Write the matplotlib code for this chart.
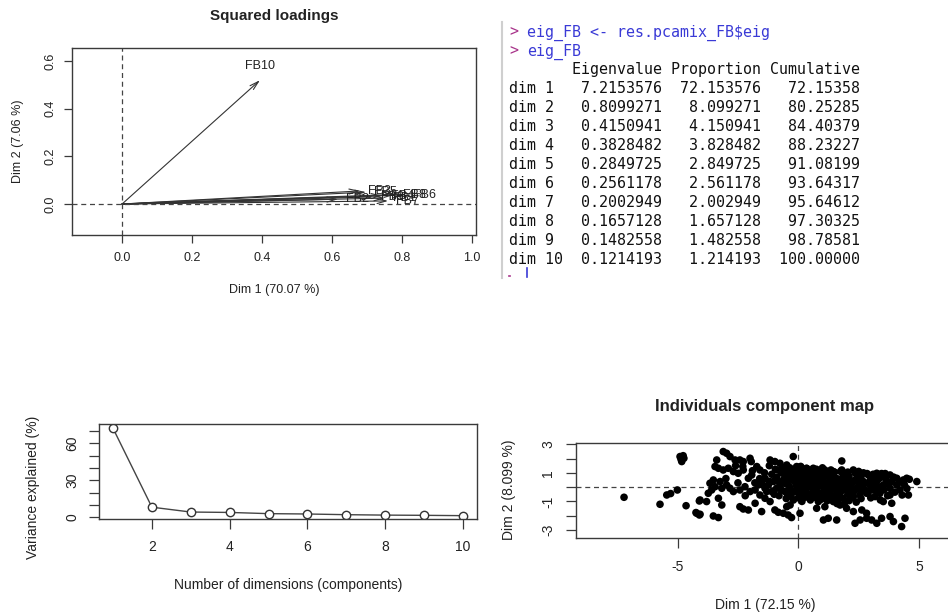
import matplotlib
matplotlib.use('Agg')
import matplotlib.pyplot as plt
from matplotlib.patches import FancyArrowPatch
from matplotlib.lines import Line2D

W, H = 948, 615
plt.rcParams['font.family'] = ['Liberation Sans', 'DejaVu Sans']
plt.rcParams['axes.unicode_minus'] = False

# ---------------- data ----------------
dims = ['dim 1', 'dim 2', 'dim 3', 'dim 4', 'dim 5', 'dim 6', 'dim 7', 'dim 8', 'dim 9', 'dim 10']
eigenvalue = [7.2153576, 0.8099271, 0.4150941, 0.3828482, 0.2849725,
              0.2561178, 0.2002949, 0.1657128, 0.1482558, 0.1214193]
proportion = [72.153576, 8.099271, 4.150941, 3.828482, 2.849725,
              2.561178, 2.002949, 1.657128, 1.482558, 1.214193]
cumulative = [72.15358, 80.25285, 84.40379, 88.23227, 91.08199,
              93.64317, 95.64612, 97.30325, 98.78581, 100.00000]
n_dims = [1, 2, 3, 4, 5, 6, 7, 8, 9, 10]

var_names = ['FB1', 'FB2', 'FB3', 'FB4', 'FB5', 'FB6', 'FB7', 'FB8', 'FB9', 'FB10']
sqload_dim1 = [0.751, 0.617, 0.680, 0.743, 0.697, 0.806, 0.760, 0.780, 0.717, 0.394]
sqload_dim2 = [0.025, 0.020, 0.055, 0.035, 0.050, 0.038, 0.013, 0.040, 0.030, 0.520]

ind_points = [
    (-7.22, -0.71), (-5.73, -1.2), (-5.45, -0.55), (-5.29, -0.45), (-5.01, -0.2),
    (-4.90, 2.14), (-4.77, 2.2), (-4.83, 1.79), (-4.74, 2.02), (-4.86, 1.95),
    (-4.65, -1.3), (-4.24, -1.78), (-4.10, -1.95), (-4.10, -0.97), (-4.07, -0.9),
    (-3.11, 2.49), (-2.97, 2.37), (-2.83, 2.14), (-2.62, 1.9), (-2.42, 1.9), (-2.28, 1.79),
    (-2.0, 2.02), (-1.95, 1.79), (-3.38, 1.9), (-3.45, 1.44), (-3.31, 1.32), (-3.11, 1.2),
    (-2.9, 1.32), (-2.69, 1.09), (-2.49, 0.97), (-2.28, 1.2), (-2.07, 0.62), (-1.93, 0.85),
    (-1.72, 1.44), (-1.59, 1.2), (-3.66, 0.27), (-3.52, 0.5), (-3.45, 0.03), (-3.59, -0.2),
    (-3.73, -0.43), (-3.24, 0.39), (-3.17, -0.08), (-2.97, 0.15), (-2.83, -0.08), (-2.69, -0.31),
    (-2.42, -0.2), (-2.21, 0.03), (-2.0, -0.31), (-1.79, -0.2), (-1.66, 0.15), (-1.52, 0.39),
    (-1.38, -0.08), (-1.24, 0.15), (-1.38, 0.62), (-3.8, -1.01), (-3.31, -0.78), (-3.17, -1.25),
    (-4.21, -1.83), (-4.07, -1.9), (-3.52, -2.02), (-3.31, -2.13), (-2.42, -1.37), (-2.28, -1.53),
    (-2.07, -1.6), (-1.79, -1.13), (-1.52, -1.71), (-0.97, -1.6), (-0.83, -1.76), (-0.62, -1.83),
    (-0.42, -1.95), (-0.28, -2.13), (-0.48, -1.37), (-0.34, -1.25), (0.07, -1.83),
    (-1.17, 1.9), (-0.97, 1.79), (-0.76, 1.67), (-0.83, 1.2), (-0.62, 1.32), (-0.48, 1.55),
    (-0.34, 1.09), (-0.21, 2.14), (-0.07, 1.44), (-0.55, 0.85), (-0.42, 0.5), (-0.21, 0.74),
    (-0.07, 0.39), (0.07, 1.09), (0.21, 0.74), (0.34, 1.32), (0.48, 0.39), (0.62, 0.97),
    (0.76, 0.62), (-1.03, 0.39), (-0.9, -0.08), (-0.76, 0.15), (-1.1, -0.31), (-0.55, -0.31),
    (-0.34, -0.08), (-0.14, -0.31), (0.07, -0.08), (0.28, -0.43), (0.48, -0.66), (0.69, -0.2),
    (0.83, -1.01), (-1.59, -0.55), (-1.38, -0.78), (-1.17, -1.01), (-1.31, -0.31),
    (1.8, 1.83), (0.62, 1.32), (1.1, 1.2), (1.45, 1.09), (1.8, 1.2), (2.28, 1.2), (2.56, 0.97),
    (2.9, 0.85), (3.25, 0.97), (3.52, 0.74), (3.8, 0.85), (4.49, 0.62), (4.91, 0.39), (4.35, 0.5),
    (4.08, 0.15), (4.21, -0.2), (4.56, -0.55), (3.8, -0.55), (3.52, -1.01), (3.87, -1.13),
    (3.18, -0.66), (2.83, -0.43), (2.56, -0.2), (2.14, -0.31), (1.86, -0.08), (1.59, 0.15),
    (1.31, 0.39), (1.04, 0.27), (0.76, 0.62), (0.69, -0.08), (0.9, -0.43), (1.17, -0.66),
    (1.45, -1.01), (0.76, -1.48), (1.1, -1.37), (1.73, -1.25), (2.0, -1.48), (2.28, -1.71),
    (2.63, -1.6), (2.83, -1.83), (1.04, -2.3), (1.24, -2.18), (1.59, -2.3), (2.35, -2.53),
    (2.56, -2.3), (2.83, -2.18), (3.04, -2.3), (3.25, -2.53), (3.45, -2.18), (3.8, -2.06),
    (3.94, -2.41), (4.28, -2.76), (4.42, -2.18), (2.0, 0.85), (2.14, 0.39), (2.42, 0.62),
    (2.7, 0.39), (2.97, 0.15), (3.25, 0.39), (3.52, 0.15), (3.8, -0.08), (3.18, -0.08),
    (3.38, -0.43), (2.28, -0.66), (1.86, -0.78), (1.31, -0.78), (1.59, -0.43), (4.08, 0.62),
    (3.87, 0.39),
    (-0.45, 0.9), (-0.3, 0.6), (-0.15, 1.0), (0.0, 0.7), (0.15, 1.2), (0.25, 0.45), (0.4, 0.85),
    (0.5, 1.1), (0.6, 0.3), (0.7, 0.8), (0.85, 0.5), (0.95, 1.0), (1.05, 0.7), (1.15, 0.3),
    (1.25, 0.9), (1.35, 0.55), (1.5, 1.05), (1.6, 0.6), (1.7, 0.25), (1.85, 0.95), (1.95, 0.45),
    (2.1, 0.75), (2.2, 0.2), (2.35, 1.0), (2.45, 0.5), (2.6, 0.75), (2.75, 0.25), (2.85, 0.95),
    (3.0, 0.55), (3.15, 0.2), (3.35, 0.6), (3.45, 0.95), (3.65, 0.45), (3.75, 0.2), (3.95, 0.7),
    (4.2, 0.35), (4.4, 0.15), (4.6, 0.55),
    (-0.4, 0.1), (-0.25, -0.35), (-0.1, 0.15), (0.05, -0.5), (0.2, 0.0), (0.3, -0.3), (0.45, 0.05),
    (0.55, -0.45), (0.65, -0.1), (0.8, -0.35), (0.9, 0.1), (1.0, -0.6), (1.1, -0.2), (1.2, 0.15),
    (1.3, -0.45), (1.45, -0.1), (1.55, -0.6), (1.65, 0.05), (1.75, -0.35), (1.9, -0.15),
    (2.05, -0.5), (2.15, 0.0), (2.3, -0.3), (2.45, -0.05), (2.55, -0.55), (2.7, -0.15),
    (2.9, -0.35), (3.05, -0.05), (3.3, -0.3), (3.55, -0.2), (3.7, -0.6), (4.0, -0.35),
    (4.3, -0.55), (4.5, -0.1),
    (-0.35, 1.35), (0.1, 1.45), (0.35, 1.3), (0.75, 1.25), (1.0, 1.35), (1.35, 1.2), (-0.6, 0.55),
    (-0.7, 1.0), (-0.9, 0.7), (-1.1, 0.9), (-1.2, 0.4), (-1.4, 1.0), (-1.6, 0.6), (-1.8, 0.3),
    (-0.8, -0.6), (-0.5, -0.8), (-0.2, -0.9), (0.15, -1.0), (0.5, -0.9), (0.75, -0.75),
    (1.2, -0.95), (1.6, -1.15), (1.9, -1.2), (2.4, -1.05), (2.2, -0.75), (3.0, -0.75), (3.4, -0.9),
    (-0.95, 1.25), (-0.6, 1.15), (-0.25, 1.2), (0.05, 1.0), (0.3, 1.05), (0.6, 1.1), (0.9, 1.15),
    (1.2, 1.05), (1.45, 0.85), (1.75, 1.1), (2.05, 1.05), (2.5, 1.1), (2.7, 1.0), (3.1, 0.9),
    (3.6, 0.95), (-0.85, 0.45), (-0.55, 0.25), (-0.2, 0.45), (0.1, 0.3), (0.35, 0.6), (0.55, 0.55),
    (0.8, 0.3), (1.0, 0.45), (1.3, 0.65), (1.55, 0.35), (1.8, 0.6), (2.0, 0.3), (2.3, 0.45),
    (2.6, 0.1), (2.9, 0.3), (3.2, 0.75), (3.6, 0.65), (-0.7, -0.2), (-0.45, -0.5), (-0.05, -0.15),
    (0.15, -0.25), (0.35, 0.2), (0.6, -0.3), (0.75, 0.1), (1.05, -0.05), (1.25, -0.25), (1.4, 0.2),
    (1.7, -0.1), (1.95, 0.1), (2.25, -0.1), (2.5, 0.25), (2.8, -0.25), (3.1, -0.2), (3.4, 0.0),
    (-0.3, -0.65), (0.0, -0.75), (0.3, -0.7), (0.6, -0.65), (0.95, -0.85), (1.35, -0.7),
    (1.7, -0.8), (2.1, -0.95), (2.6, -0.8), (-2.6, 1.5), (-2.3, 1.45), (-1.9, 1.15), (-1.2, 1.5),
    (-1.5, 0.2), (-2.5, 0.3), (-3.0, 0.6), (-1.0, -0.5), (-2.2, -0.6),
]
ind_dim1 = [p[0] for p in ind_points]
ind_dim2 = [p[1] for p in ind_points]

# ---------------- helpers ----------------
fig = plt.figure(figsize=(W / 100, H / 100), dpi=100)
fig.patch.set_facecolor('white')

INK = '#222222'
LINE = '#3a3a3a'


def add_ax(l, t, r, b):
    return fig.add_axes([l / W, 1 - b / H, (r - l) / W, (b - t) / H])


def ftext(x, y, s, **kw):
    return fig.text(x / W, 1 - y / H, s, **kw)


def r_style(ax, xticks, yticks, ylabels=None, fs=9, xpad=5, ypad=5, tlen=6):
    for sp in ax.spines.values():
        sp.set_color(LINE)
        sp.set_linewidth(1.0)
    ax.set_xticks(xticks)
    ax.set_yticks(yticks)
    if ylabels is not None:
        ax.set_yticklabels(ylabels)
    ax.tick_params(direction='out', length=tlen, width=0.9, color=LINE,
                   labelsize=fs, labelcolor=INK)
    ax.tick_params(axis='x', pad=xpad)
    ax.tick_params(axis='y', pad=ypad)
    for lab in ax.get_yticklabels():
        lab.set_rotation(90)
        lab.set_va('center')
        lab.set_ha('right')


# ---------------- panel 1 : squared loadings ----------------
ax1 = add_ax(72, 48, 476, 235)
ax1.set_xlim(-0.143, 1.011)
ax1.set_ylim(-0.130, 0.655)
r_style(ax1, [0.0, 0.2, 0.4, 0.6, 0.8, 1.0], [0.0, 0.2, 0.4, 0.6], fs=9, xpad=6, ypad=5, tlen=6)
ax1.set_xticklabels(['0.0', '0.2', '0.4', '0.6', '0.8', '1.0'])
ax1.set_yticklabels(['0.0', '0.2', '0.4', '0.6'])
for lab in ax1.get_yticklabels():
    lab.set_rotation(90)
    lab.set_va('center')
ax1.axhline(0, ls=(0, (4, 3)), color='#444444', lw=0.9)
ax1.axvline(0, ls=(0, (4, 3)), color='#444444', lw=0.9)
for name, x, y in zip(var_names, sqload_dim1, sqload_dim2):
    arr = FancyArrowPatch((0, 0), (x, y), arrowstyle='->,head_length=6.5,head_width=1.8',
                          mutation_scale=1, shrinkA=0, shrinkB=0, color='#333333', lw=0.8)
    ax1.add_patch(arr)
    if y > x:
        ax1.annotate(name, (x, y), xytext=(0, 6), textcoords='offset points',
                     ha='center', va='bottom', fontsize=9, color=INK)
    else:
        ax1.annotate(name, (x, y), xytext=(6, 0), textcoords='offset points',
                     ha='left', va='center', fontsize=9, color=INK)
ftext(274, 16, 'Squared loadings', ha='center', va='center', fontsize=11, fontweight='bold', color=INK)
ftext(274, 290, 'Dim 1 (70.07 %)', ha='center', va='center', fontsize=9, color=INK)
ftext(18, 141, 'Dim 2 (7.06 %)', ha='center', va='center', fontsize=9, color=INK, rotation=90)

# ---------------- panel 2 : console output ----------------
mono = dict(family='DejaVu Sans Mono', fontsize=10.8)
x0 = 509.3
cw = 9.0
PROMPT = '#a8338a'
CMD = '#3a3ad6'
ftext(x0, 36.3, '>', color=PROMPT, va='baseline', ha='left', **mono)
ftext(x0 + 2 * cw, 36.3, 'eig_FB <- res.pcamix_FB$eig', color=CMD, va='baseline', ha='left', **mono)
ftext(x0, 55.3, '>', color=PROMPT, va='baseline', ha='left', **mono)
ftext(x0 + 2 * cw, 55.3, 'eig_FB', color=CMD, va='baseline', ha='left', **mono)
header = ' ' * 7 + 'Eigenvalue Proportion Cumulative'
ftext(x0, 74.3, header, color='#111111', va='baseline', ha='left', **mono)
for k, (d, e, p, c) in enumerate(zip(dims, eigenvalue, proportion, cumulative)):
    row = f'{d:<6} {e:>10.7f} {p:>10.6f} {c:>10.5f}'
    ftext(x0, 93.3 + 19 * k, row, color='#111111', va='baseline', ha='left', **mono)
fig.add_artist(Line2D([502 / W, 502 / W], [1 - 22 / H, 1 - 278 / H], color='#cfcfcf', lw=1.5))
fig.add_artist(Line2D([527 / W, 527 / W], [1 - 268 / H, 1 - 277 / H], color=CMD, lw=1.2))
fig.add_artist(Line2D([508.5 / W, 510 / W], [1 - 276 / H, 1 - 276 / H], color=PROMPT, lw=1.2))

# ---------------- panel 3 : scree plot ----------------
ax3 = add_ax(99, 424.3, 477, 519)
ax3.set_xlim(0.64, 10.36)
ax3.set_ylim(-1.5, 75.4)
yt = [0, 10, 20, 30, 40, 50, 60, 70]
r_style(ax3, [2, 4, 6, 8, 10], yt, ylabels=[str(v) if v % 30 == 0 else '' for v in yt],
        fs=10, xpad=8, ypad=7, tlen=7)
ax3.plot(n_dims, proportion, color='#444444', lw=1.0, marker='o', markersize=6,
         markerfacecolor='white', markeredgecolor='#333333', markeredgewidth=1.0)
ftext(288, 585, 'Number of dimensions (components)', ha='center', va='center', fontsize=10, color=INK)
ftext(33, 487, 'Variance explained (%)', ha='center', va='center', fontsize=10, color=INK, rotation=90)

# ---------------- panel 4 : individuals map ----------------
ax4 = add_ax(576, 442.7, 954, 537.7)
ax4.set_xlim(-9.21, 6.45)
ax4.set_ylim(-3.54, 3.11)
yt4 = [-3, -2, -1, 0, 1, 2, 3]
r_style(ax4, [-5, 0, 5], yt4, ylabels=[str(v) if v % 2 != 0 else '' for v in yt4],
        fs=10, xpad=9, ypad=8, tlen=7)
ax4.axhline(0, ls=(0, (4, 3)), color='#444444', lw=0.9)
ax4.axvline(0, ls=(0, (4, 3)), color='#444444', lw=0.9)
ax4.scatter(ind_dim1, ind_dim2, s=30, color='black', edgecolors='none', zorder=3)
ftext(765, 406.7, 'Individuals component map', ha='center', va='center', fontsize=12,
      fontweight='bold', color=INK)
ftext(765, 605, 'Dim 1 (72.15 %)', ha='center', va='center', fontsize=10, color=INK)
ftext(509, 490, 'Dim 2 (8.099 %)', ha='center', va='center', fontsize=10, color=INK, rotation=90)

fig.savefig('out.png', dpi=100, facecolor='white')
